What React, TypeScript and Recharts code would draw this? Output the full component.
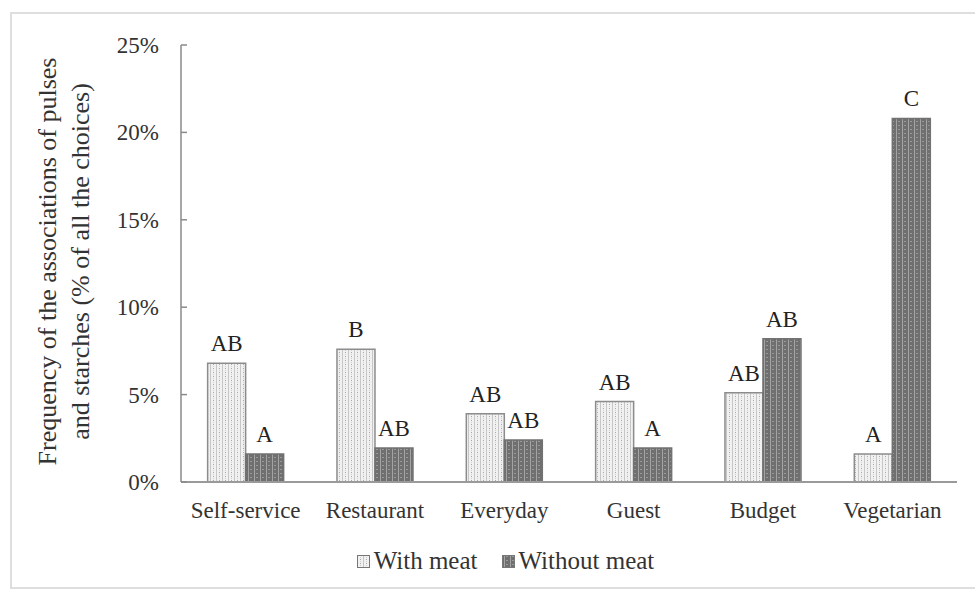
import React from 'react';
import { BarChart, Bar, XAxis, YAxis, Legend, LabelList } from 'recharts';

// categories and values (% of all the choices)
const categories = ['Self-service', 'Restaurant', 'Everyday', 'Guest', 'Budget', 'Vegetarian'];
const withMeat = [6.8, 7.6, 3.9, 4.6, 5.1, 1.6];
const withoutMeat = [1.6, 1.95, 2.4, 1.95, 8.2, 20.8];
const withMeatLetters = ['AB', 'B', 'AB', 'AB', 'AB', 'A'];
const withoutMeatLetters = ['A', 'AB', 'AB', 'A', 'AB', 'C'];
const yTicks = [0, 5, 10, 15, 20, 25];
const titleLines = ['Frequency of the associations of pulses', 'and starches (% of all the choices)'];

const FONT = '"Liberation Serif", "Times New Roman", serif';

const data = categories.map((category, i) => ({
  category,
  withMeat: withMeat[i],
  withoutMeat: withoutMeat[i],
  withMeatLetter: withMeatLetters[i],
  withoutMeatLetter: withoutMeatLetters[i],
}));

// y ticks point inward, like the original
const YTick = ({ x, y, payload }: any) => (
  <g>
    <line x1={x + 22} x2={x + 28} y1={y} y2={y} stroke="#8a8a8a" strokeWidth={1.5} />
    <text x={x} y={y} dy={8} textAnchor="end" fill="#333" fontSize={23} fontFamily={FONT}>
      {payload.value}%
    </text>
  </g>
);

const YTitle = ({ viewBox }: any) => {
  const cy = viewBox.y + viewBox.height / 2 - 2;
  return (
    <g>
      {titleLines.map((line, i) => {
        const cx = viewBox.x - 34 + i * 33;
        return (
          <text
            key={i}
            x={cx}
            y={cy}
            transform={`rotate(-90, ${cx}, ${cy})`}
            textAnchor="middle"
            dominantBaseline="central"
            fill="#333"
            fontSize={26}
            fontFamily={FONT}
          >
            {line}
          </text>
        );
      })}
    </g>
  );
};

const LegendContent = ({ payload }: any) => (
  <div style={{ display: 'flex', justifyContent: 'center', gap: 24, fontFamily: FONT, fontSize: 25, color: '#333', paddingLeft: 36 }}>
    {(payload || []).map((entry: any) => (
      <div key={entry.value} style={{ display: 'flex', alignItems: 'center' }}>
        <svg width={13} height={13} style={{ marginRight: 4 }}>
          <rect x={0.5} y={0.5} width={12} height={12} fill={`url(#${entry.payload.patternId})`} stroke="#777" />
        </svg>
        <span>{entry.value}</span>
      </div>
    ))}
  </div>
);

export default function App() {
  return (
    <div style={{ position: 'absolute', left: 0, top: 0, width: 975, height: 593, background: '#fff', overflow: 'hidden' }}>
      <div
        style={{
          position: 'absolute',
          left: 10,
          top: 12,
          width: 990,
          height: 573,
          borderTop: '2px solid #dedede',
          borderLeft: '2px solid #dedede',
          borderBottom: '2px solid #dedede',
        }}
      />
      <svg width={0} height={0} style={{ position: 'absolute' }}>
        <defs>
          <pattern id="patWith" width={6} height={4} patternUnits="userSpaceOnUse">
            <rect width={6} height={4} fill="#f1f1f1" />
            <rect x={0} y={0} width={1} height={4} fill="#c6c6c6" />
            <rect x={3} y={0} width={1} height={1} fill="#a8a8a8" />
            <rect x={3} y={2} width={1} height={1} fill="#cfcfcf" />
          </pattern>
          <pattern id="patWithout" width={6} height={4} patternUnits="userSpaceOnUse">
            <rect width={6} height={4} fill="#6f6f6f" />
            <rect x={2} y={0} width={1} height={4} fill="#a4a4a4" />
            <rect x={4} y={1} width={2} height={1} fill="#9a9a9a" />
          </pattern>
        </defs>
      </svg>
      <div style={{ position: 'absolute', left: 0, top: 0 }}>
        <BarChart
          width={975}
          height={593}
          data={data}
          margin={{ top: 45, right: 18, bottom: 61, left: 81 }}
          barCategoryGap="20.6%"
          barGap={0}
        >
          <XAxis
            dataKey="category"
            height={50}
            axisLine={{ stroke: '#9a9a9a', strokeWidth: 2 }}
            tickLine={false}
            tickMargin={14}
            tick={{ fill: '#333', fontSize: 23, fontFamily: FONT }}
            interval={0}
          />
          <YAxis
            width={100}
            domain={[0, 25]}
            ticks={yTicks}
            interval={0}
            axisLine={{ stroke: '#8a8a8a', strokeWidth: 1.5 }}
            tickLine={false}
            tickSize={6}
            tickMargin={16}
            tick={<YTick />}
            label={<YTitle />}
          />
          <Legend
            layout="horizontal"
            verticalAlign="middle"
            align="center"
            wrapperStyle={{ top: 547, left: 0, width: 975 }}
            content={<LegendContent />}
          />
          <Bar
            dataKey="withMeat"
            name="With meat"
            fill="url(#patWith)"
            stroke="#8c8c8c"
            strokeWidth={1.5}
            isAnimationActive={false}
            {...({ patternId: 'patWith' } as any)}
          >
            <LabelList dataKey="withMeatLetter" position="top" offset={12} fill="#222" fontSize={23} fontFamily={FONT} />
          </Bar>
          <Bar
            dataKey="withoutMeat"
            name="Without meat"
            fill="url(#patWithout)"
            stroke="#727272"
            strokeWidth={1.5}
            isAnimationActive={false}
            {...({ patternId: 'patWithout' } as any)}
          >
            <LabelList dataKey="withoutMeatLetter" position="top" offset={12} fill="#222" fontSize={23} fontFamily={FONT} />
          </Bar>
        </BarChart>
      </div>
    </div>
  );
}
